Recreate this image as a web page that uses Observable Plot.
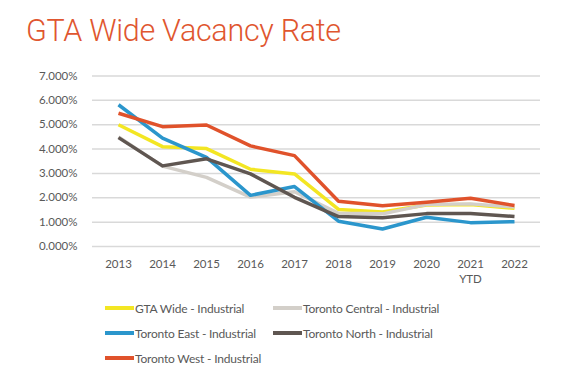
<!DOCTYPE html>
<html><head><meta charset="utf-8">
<script src="https://cdn.jsdelivr.net/npm/d3@7"></script>
<script src="https://cdn.jsdelivr.net/npm/@observablehq/plot@0.6"></script>
<style>
html,body{margin:0;padding:0;background:#fff;}
#wrap{position:relative;width:564px;height:378px;overflow:hidden;font-family:Lato,"Open Sans",sans-serif;}
#title{position:absolute;left:26px;top:13px;font-family:Roboto,sans-serif;font-weight:300;font-size:30.5px;color:#e0562f;white-space:nowrap;letter-spacing:-0.3px;}
#chart{position:absolute;left:0;top:0;}
#legend{position:absolute;left:0;top:0;width:564px;height:378px;}
.li{position:absolute;display:flex;align-items:center;font-size:12px;letter-spacing:-0.2px;color:#595959;white-space:nowrap;}
.sw{width:29px;height:3.5px;margin-right:1px;}
</style></head>
<body><div id="wrap"><div id="title">GTA Wide Vacancy Rate</div><div id="chart"></div><div id="legend"></div></div>
<script>
const years = ["2013","2014","2015","2016","2017","2018","2019","2020","2021","2022"];
const yearLabels = ["2013","2014","2015","2016","2017","2018","2019","2020","2021\nYTD","2022"];
const seriesNames = ["GTA Wide - Industrial","Toronto Central - Industrial","Toronto East - Industrial","Toronto North - Industrial","Toronto West - Industrial"];
const seriesColors = ["#f3e623","#d3cfc9","#2b96cc","#5f5651","#e0522b"];
const gtaWide = [5.0, 4.1, 4.02, 3.17, 2.98, 1.52, 1.42, 1.7, 1.72, 1.57];
const torontoCentral = [4.5, 3.3, 2.84, 2.03, 2.25, 1.36, 1.34, 1.72, 1.75, 1.62];
const torontoEast = [5.82, 4.45, 3.66, 2.1, 2.46, 1.04, 0.72, 1.2, 0.98, 1.02];
const torontoNorth = [4.47, 3.31, 3.6, 2.98, 2.02, 1.23, 1.18, 1.35, 1.35, 1.23];
const torontoWest = [5.47, 4.92, 4.99, 4.13, 3.73, 1.86, 1.67, 1.82, 1.98, 1.68];
const yTicks = [0,1,2,3,4,5,6,7];

const allSeries = [gtaWide, torontoCentral, torontoEast, torontoNorth, torontoWest];
const rows = [];
allSeries.forEach((vals, si) => vals.forEach((v, i) => rows.push({series: seriesNames[si], year: years[i], value: v})));
const labelOf = Object.fromEntries(years.map((y,i)=>[y, yearLabels[i]]));

const plot = Plot.plot({
  width: 564, height: 290,
  marginLeft: 92, marginRight: 24, marginTop: 75.5, marginBottom: 44,
  style: {fontFamily: "Lato, 'Open Sans', sans-serif", fontSize: "11.5px", color: "#595959", background: "transparent"},
  x: {type: "point", domain: years, padding: 0.5},
  y: {domain: [0, 7]},
  color: {domain: seriesNames, range: seriesColors},
  marks: [
    Plot.ruleY(yTicks, {stroke: "#d9d9d9", strokeWidth: 1.5}),
    Plot.axisY({ticks: yTicks, tickSize: 0, tickPadding: 15, tickFormat: d => d.toFixed(3) + "%", label: null, fill: "#595959", fontSize: 11.5}),
    Plot.axisX({tickSize: 0, tickPadding: 11, tickFormat: d => labelOf[d], label: null, fill: "#595959", fontSize: 11.5, lineHeight: 1.3}),
    Plot.line(rows, {x: "year", y: "value", z: "series", stroke: "series", strokeWidth: 3.5, strokeLinejoin: "round", strokeLinecap: "butt"})
  ]
});
document.getElementById("chart").appendChild(plot);

const legendPos = [[105,308],[273,308],[105,333],[273,333],[105,358]];
const leg = document.getElementById("legend");
seriesNames.forEach((n, i) => {
  const d = document.createElement("div");
  d.className = "li";
  d.style.left = legendPos[i][0] + "px";
  d.style.top = (legendPos[i][1] - 9) + "px";
  d.style.height = "18px";
  d.innerHTML = `<span class="sw" style="background:${seriesColors[i]}"></span><span>${n}</span>`;
  leg.appendChild(d);
});
</script></body></html>
